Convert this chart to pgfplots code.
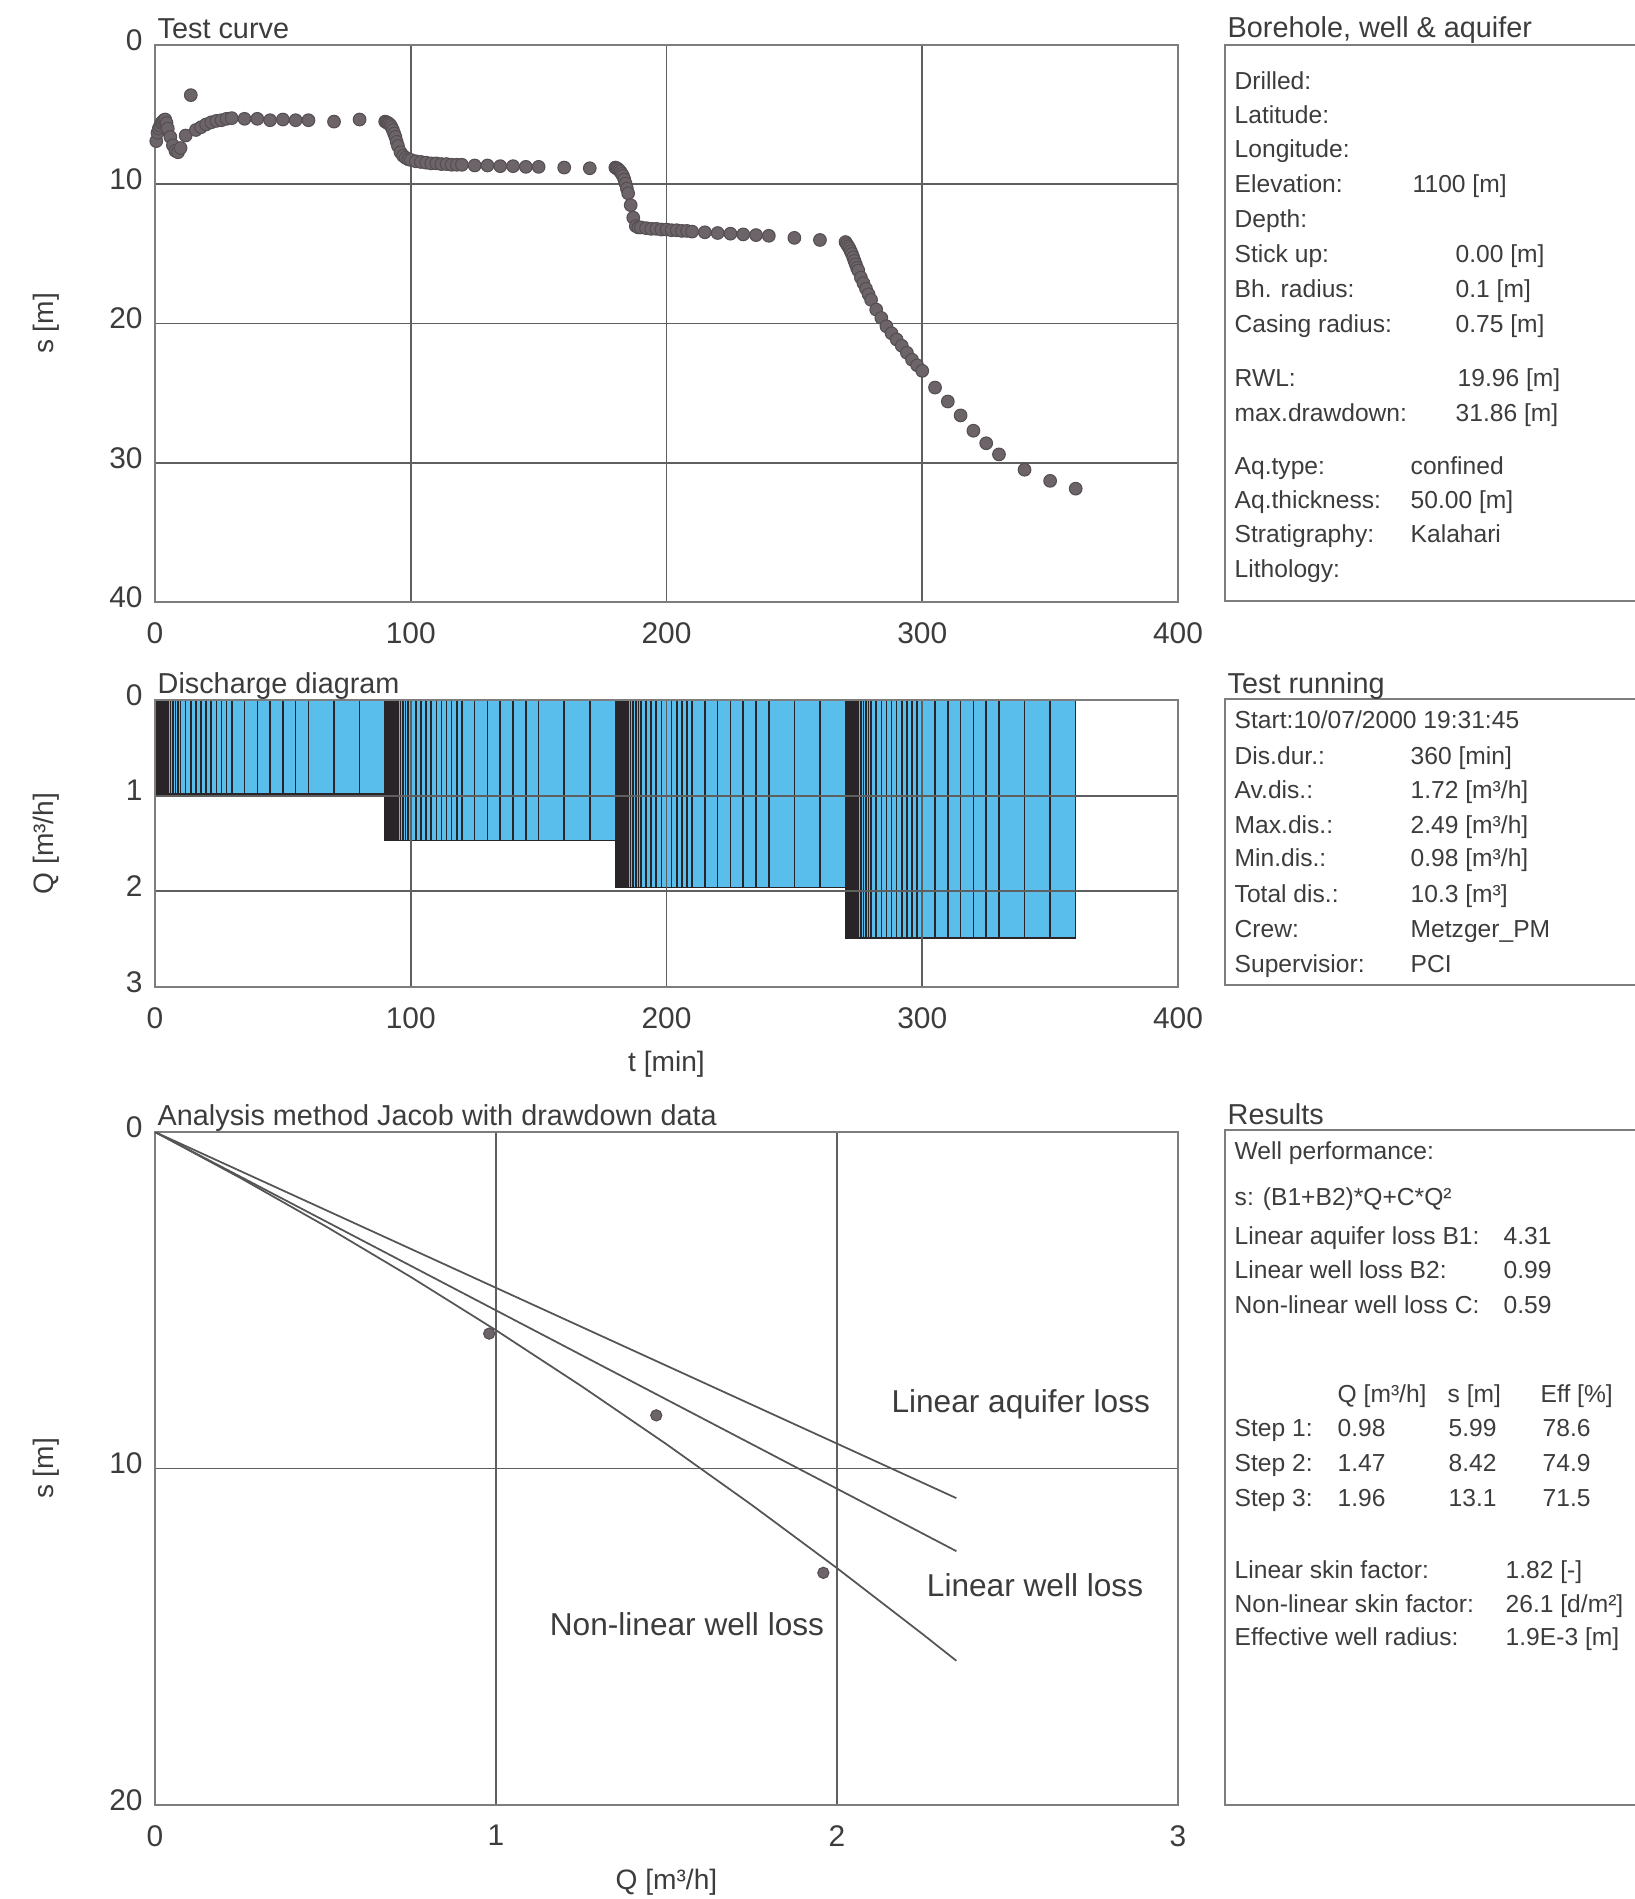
\documentclass[border=0pt]{standalone}
\usepackage{pgfplots}
\pgfplotsset{compat=1.18}
\usepackage{pgfplotstable}
\usepackage{fontspec}
\setmainfont{Liberation Sans}

\definecolor{txt}{RGB}{60,60,60}
\definecolor{gridc}{RGB}{95,95,95}
\definecolor{framec}{RGB}{125,125,125}
\definecolor{barblue}{RGB}{90,190,236}
\definecolor{barline}{RGB}{40,36,40}
\definecolor{dotc}{RGB}{108,100,104}
\definecolor{dotedge}{RGB}{85,78,82}
\definecolor{linec}{RGB}{85,85,85}

\newcommand\bodyfont{\fontsize{7}{8}\selectfont}
\newcommand\headfont{\fontsize{8.2}{10}\selectfont}
\newcommand\ptxt[3]{\node[anchor=base west,inner sep=0pt,font=\bodyfont,text=txt] at (#1,-#2) {#3};}
\newcommand\htxt[3]{\node[anchor=base west,inner sep=0pt,font=\headfont,text=txt] at (#1,-#2) {#3};}

% readings of the step test: time [min], drawdown s [m], discharge Q [m3/h]
% (Q belongs to the interval that starts at t)
\pgfplotstableread{
t s Q
0 nan 0.98
0.5 6.9 0.98
1 6.3 0.98
1.5 6.0 0.98
2 5.8 0.98
2.5 5.6 0.98
3 5.5 0.98
3.5 5.4 0.98
4 5.35 0.98
4.5 5.6 0.98
5 6.0 0.98
6 6.6 0.98
7 7.2 0.98
8 7.6 0.98
9 7.7 0.98
10 7.4 0.98
12 6.5 0.98
14 3.6 0.98
16 6.1 0.98
18 5.9 0.98
20 5.7 0.98
22 5.55 0.98
24 5.45 0.98
26 5.4 0.98
28 5.3 0.98
30 5.25 0.98
35 5.3 0.98
40 5.3 0.98
45 5.4 0.98
50 5.35 0.98
55 5.4 0.98
60 5.4 0.98
70 5.5 0.98
80 5.35 0.98
90 5.5 1.47
90.5 5.55 1.47
91 5.6 1.47
91.5 5.65 1.47
92 5.75 1.47
92.5 5.9 1.47
93 6.1 1.47
93.5 6.35 1.47
94 6.6 1.47
94.5 6.95 1.47
95 7.25 1.47
96 7.7 1.47
97 7.95 1.47
98 8.1 1.47
99 8.2 1.47
100 8.25 1.47
102 8.35 1.47
104 8.4 1.47
106 8.45 1.47
108 8.5 1.47
110 8.5 1.47
112 8.55 1.47
114 8.55 1.47
116 8.6 1.47
118 8.6 1.47
120 8.6 1.47
125 8.65 1.47
130 8.65 1.47
135 8.7 1.47
140 8.7 1.47
145 8.75 1.47
150 8.75 1.47
160 8.8 1.47
170 8.85 1.47
180 8.8 1.96
180.5 8.85 1.96
181 8.9 1.96
181.5 9.0 1.96
182 9.1 1.96
182.5 9.25 1.96
183 9.4 1.96
183.5 9.65 1.96
184 9.95 1.96
184.5 10.3 1.96
185 10.65 1.96
186 11.5 1.96
187 12.4 1.96
188 13.0 1.96
189 13.1 1.96
190 13.1 1.96
192 13.15 1.96
194 13.2 1.96
196 13.2 1.96
198 13.25 1.96
200 13.25 1.96
202 13.3 1.96
204 13.3 1.96
206 13.35 1.96
208 13.35 1.96
210 13.4 1.96
215 13.45 1.96
220 13.5 1.96
225 13.55 1.96
230 13.6 1.96
235 13.65 1.96
240 13.7 1.96
250 13.85 1.96
260 14.0 1.96
270 14.15 2.49
270.5 14.3 2.49
271 14.45 2.49
271.5 14.6 2.49
272 14.8 2.49
272.5 15.0 2.49
273 15.25 2.49
273.5 15.5 2.49
274 15.75 2.49
274.5 16.0 2.49
275 16.2 2.49
276 16.7 2.49
277 17.1 2.49
278 17.5 2.49
279 17.9 2.49
280 18.3 2.49
282 19.0 2.49
284 19.6 2.49
286 20.2 2.49
288 20.7 2.49
290 21.15 2.49
292 21.6 2.49
294 22.1 2.49
296 22.6 2.49
298 23.0 2.49
300 23.4 2.49
305 24.6 2.49
310 25.6 2.49
315 26.6 2.49
320 27.7 2.49
325 28.6 2.49
330 29.4 2.49
340 30.5 2.49
350 31.3 2.49
360 31.86 2.49
}\testdata

% step results for the Jacob analysis
\pgfplotstableread{
Q s
0.98 5.99
1.47 8.42
1.96 13.1
}\steps

% s = (B1+B2) Q + C Q^2, tabulated
\pgfplotstableread{
Q s
0 0
0.25 1.362
0.5 2.798
0.75 4.307
1.0 5.89
1.25 7.547
1.5 9.278
1.75 11.082
2.0 12.96
2.25 14.912
2.35 15.713
}\nonlinear

\pgfplotsset{
  sheetaxis/.style={
    scale only axis, width=10.23cm, anchor=north west,
    y dir=reverse,
    grid=major, major grid style={gridc, line width=0.5pt},
    axis line style={framec, line width=0.5pt},
    major tick length=0pt,
    /pgf/number format/assume math mode=true,
    tick label style={font=\fontsize{8.5}{10}\selectfont, text=txt},
    xticklabel style={yshift=-0.08cm},
    yticklabel style={yshift=0.05cm},
    every axis y label/.style={at={(axis description cs:-0.1065,0.5)}, rotate=90, anchor=center,
      font=\fontsize{8}{10}\selectfont, text=txt},
    every axis x label/.style={at={(axis description cs:0.5,0)}, anchor=center, yshift=-0.77cm,
      font=\fontsize{8}{10}\selectfont, text=txt},
    every axis title/.style={at={(axis description cs:0,1)}, anchor=base west, inner sep=0pt,
      xshift=0.02cm, yshift=0.07cm, font=\headfont, text=txt},
  }
}

\begin{document}
\begin{tikzpicture}
\path[use as bounding box] (0,0) rectangle (16.35,-18.99);

% drawdown over time
\begin{axis}[sheetaxis, at={(1.55cm,-0.45cm)}, height=5.57cm,
  xmin=0, xmax=400, ymin=0, ymax=40,
  xtick={0,100,200,300,400}, ytick={0,10,20,30,40},
  ylabel={s [m]}, title={Test curve}]
\addplot[only marks, mark=*, mark size=1.8pt,
  mark options={fill=dotc, draw=dotedge, line width=0.3pt}]
  table[x=t, y=s] {\testdata};
\end{axis}

% discharge steps
\begin{axis}[sheetaxis, at={(1.55cm,-7.00cm)}, height=2.87cm,
  xmin=0, xmax=400, ymin=0, ymax=3, axis on top,
  xtick={0,100,200,300,400}, ytick={0,1,2,3},
  ylabel={Q [m³/h]}, xlabel={t [min]}, title={Discharge diagram}]
\addplot[ybar interval, fill=barblue, draw=barline, line width=0.45pt]
  table[x=t, y=Q] {\testdata};
\end{axis}

% Jacob step analysis
\begin{axis}[sheetaxis, at={(1.55cm,-11.32cm)}, height=6.73cm,
  xmin=0, xmax=3, ymin=0, ymax=20,
  xtick={0,1,2,3}, ytick={0,10,20},
  xlabel={Q [m³/h]}, ylabel={s [m]},
  title={Analysis method Jacob with drawdown data}]
\addplot[linec, line width=0.5pt] coordinates {(0,0) (2.35,10.88)};
\addplot[linec, line width=0.5pt] coordinates {(0,0) (2.35,12.455)};
\addplot[linec, line width=0.5pt] table[x=Q, y=s] {\nonlinear};
\addplot[only marks, mark=*, mark size=1.6pt,
  mark options={fill=dotc, draw=dotedge, line width=0.3pt}]
  table[x=Q, y=s] {\steps};
\node[anchor=base east, inner sep=0pt, font=\fontsize{9}{11}\selectfont, text=txt]
  at (axis cs:2.92,8.34) {Linear aquifer loss};
\node[anchor=base east, inner sep=0pt, font=\fontsize{9}{11}\selectfont, text=txt]
  at (axis cs:2.90,13.81) {Linear well loss};
\node[anchor=base west, inner sep=0pt, font=\fontsize{9}{11}\selectfont, text=txt]
  at (axis cs:1.156,14.95) {Non-linear well loss};
\end{axis}

% information panels
\draw[framec, line width=0.5pt] (16.35,-0.45) -- (12.25,-0.45) -- (12.25,-6.01) -- (16.35,-6.01);
\draw[framec, line width=0.5pt] (16.35,-6.99) -- (12.25,-6.99) -- (12.25,-9.85) -- (16.35,-9.85);
\draw[framec, line width=0.5pt] (16.35,-11.30) -- (12.25,-11.30) -- (12.25,-18.05) -- (16.35,-18.05);

\htxt{12.27}{0.374}{Borehole, well \& aquifer}
\ptxt{12.34}{0.89}{Drilled:}
\ptxt{12.34}{1.235}{Latitude:}
\ptxt{12.34}{1.57}{Longitude:}
\ptxt{12.34}{1.92}{Elevation:}      \ptxt{14.12}{1.92}{1100 [m]}
\ptxt{12.34}{2.27}{Depth:}
\ptxt{12.34}{2.62}{Stick up:}       \ptxt{14.55}{2.62}{0.00 [m]}
\ptxt{12.34}{2.975}{Bh. radius:}    \ptxt{14.55}{2.975}{0.1 [m]}
\ptxt{12.34}{3.325}{Casing radius:} \ptxt{14.55}{3.325}{0.75 [m]}
\ptxt{12.34}{3.86}{RWL:}            \ptxt{14.57}{3.86}{19.96 [m]}
\ptxt{12.34}{4.21}{max.drawdown:}   \ptxt{14.55}{4.21}{31.86 [m]}
\ptxt{12.34}{4.74}{Aq.type:}        \ptxt{14.10}{4.74}{confined}
\ptxt{12.34}{5.08}{Aq.thickness:}   \ptxt{14.10}{5.08}{50.00 [m]}
\ptxt{12.34}{5.425}{Stratigraphy:}  \ptxt{14.10}{5.425}{Kalahari}
\ptxt{12.34}{5.775}{Lithology:}

\htxt{12.27}{6.93}{Test running}
\ptxt{12.34}{7.28}{Start:10/07/2000 19:31:45}
\ptxt{12.34}{7.64}{Dis.dur.:}    \ptxt{14.10}{7.64}{360 [min]}
\ptxt{12.34}{7.98}{Av.dis.:}     \ptxt{14.10}{7.98}{1.72 [m³/h]}
\ptxt{12.34}{8.335}{Max.dis.:}   \ptxt{14.10}{8.335}{2.49 [m³/h]}
\ptxt{12.34}{8.665}{Min.dis.:}   \ptxt{14.10}{8.665}{0.98 [m³/h]}
\ptxt{12.34}{9.02}{Total dis.:}  \ptxt{14.10}{9.02}{10.3 [m³]}
\ptxt{12.34}{9.37}{Crew:}        \ptxt{14.10}{9.37}{Metzger\_PM}
\ptxt{12.34}{9.72}{Supervisior:} \ptxt{14.10}{9.72}{PCI}

\htxt{12.27}{11.24}{Results}
\ptxt{12.34}{11.59}{Well performance:}
\ptxt{12.34}{12.05}{s: (B1+B2)*Q+C*Q²}
\ptxt{12.34}{12.44}{Linear aquifer loss B1:} \ptxt{15.03}{12.44}{4.31}
\ptxt{12.34}{12.78}{Linear well loss B2:}    \ptxt{15.03}{12.78}{0.99}
\ptxt{12.34}{13.13}{Non-linear well loss C:} \ptxt{15.03}{13.13}{0.59}
\ptxt{13.37}{14.02}{Q [m³/h]} \ptxt{14.47}{14.02}{s [m]} \ptxt{15.40}{14.02}{Eff [\%]}
\ptxt{12.34}{14.36}{Step 1:} \ptxt{13.37}{14.36}{0.98} \ptxt{14.48}{14.36}{5.99} \ptxt{15.42}{14.36}{78.6}
\ptxt{12.34}{14.71}{Step 2:} \ptxt{13.37}{14.71}{1.47} \ptxt{14.48}{14.71}{8.42} \ptxt{15.42}{14.71}{74.9}
\ptxt{12.34}{15.06}{Step 3:} \ptxt{13.37}{15.06}{1.96} \ptxt{14.48}{15.06}{13.1} \ptxt{15.42}{15.06}{71.5}
\ptxt{12.34}{15.78}{Linear skin factor:}     \ptxt{15.05}{15.78}{1.82 [-]}
\ptxt{12.34}{16.12}{Non-linear skin factor:} \ptxt{15.05}{16.12}{26.1 [d/m²]}
\ptxt{12.34}{16.45}{Effective well radius:}  \ptxt{15.05}{16.45}{1.9E-3 [m]}
\end{tikzpicture}
\end{document}
